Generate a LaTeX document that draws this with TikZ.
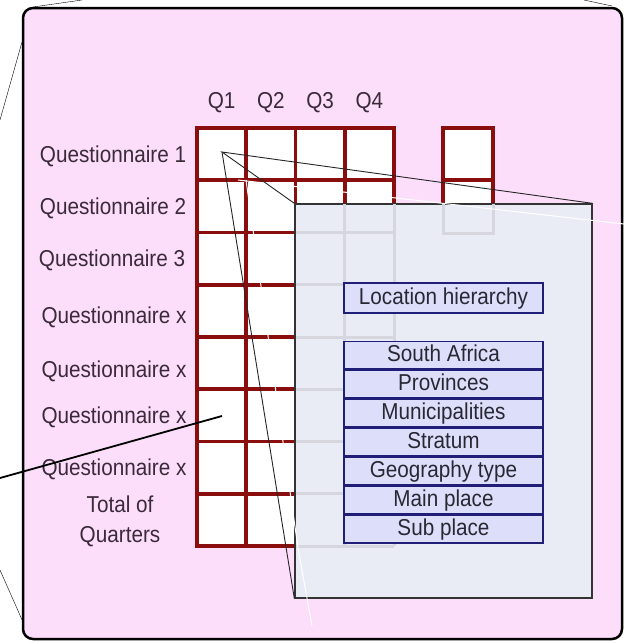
\documentclass[tikz,border=0pt]{standalone}
\usepackage{fontspec}
\setmainfont{Liberation Sans}[FakeStretch=0.9]
\usetikzlibrary{positioning}
\definecolor{pinkbg}{RGB}{252,222,250}
\definecolor{gridred}{RGB}{138,14,14}
\definecolor{panelfill}{RGB}{233,236,245}
\definecolor{fadegray}{RGB}{214,214,222}
\definecolor{boxblue}{RGB}{32,30,118}
\definecolor{boxfill}{RGB}{221,222,250}
\definecolor{labeltext}{RGB}{58,42,58}
\definecolor{boxtext}{RGB}{40,40,52}
\tikzset{
  gridline/.style={draw=gridred, line width=3.6pt, line cap=rect},
  fadeline/.style={draw=fadegray, line width=3pt},
  rowlabel/.style={anchor=base, text=labeltext, inner sep=0pt},
  levelbox/.style={draw=boxblue, fill=boxfill, line width=1.5pt, minimum width=199pt,
    minimum height=27.5pt, inner sep=0pt, text height=16.5pt, text depth=3.5pt, text=boxtext},
}
\begin{document}
\begin{tikzpicture}[x=1pt, y=-1pt, font=\fontsize{23}{30}\selectfont]
    \useasboundingbox (0,0) rectangle (624,643);
    % Lines of the outer zoom frame
    \draw[thin] (0,120) -- (22,42);
    \draw[thin] (33,7) -- (82,0);
    \draw[thin] (584,0) -- (612,6);
    \draw[thin] (0,570) -- (23,622);
    % Pink sheet
    \draw[line width=2.5pt, fill=pinkbg, rounded corners=10pt] (23,8) rectangle (622,639);
    % Quarter headings
    \foreach \j in {1,...,4}
        \node[text=labeltext, inner sep=0pt] (q\j) at ({197+49.25*(\j-0.5)},103) {Q\j};
    % Row labels
    \node[rowlabel] (qn1) at (113,162) {Questionnaire 1};
    \node[rowlabel] (qn2) at (113,214) {Questionnaire 2};
    \node[rowlabel] (qn3) at (112,266) {Questionnaire 3};
    \node[rowlabel] (qnx1) at (114,323) {Questionnaire x};
    \node[rowlabel] (qnx2) at (114,377) {Questionnaire x};
    \node[rowlabel] (qnx3) at (114,423) {Questionnaire x};
    \node[rowlabel] (qnx4) at (114,475) {Questionnaire x};
    \node[text=labeltext, inner sep=0pt, align=center] (total) at (120,521) {Total of\\Quarters};
    % Table of quarters
    \fill[white] (197,128) rectangle (394,546);
    \fill[white] (443,128) rectangle (493,233);
    \foreach \i in {0,...,8}
        \draw[gridline] (197,{128+52.25*\i}) -- (394,{128+52.25*\i});
    \foreach \j in {0,...,4}
        \draw[gridline] ({197+49.25*\j},128) -- ({197+49.25*\j},546);
    \draw[gridline] (443,128) rectangle (493,233);
    \draw[gridline] (443,180) -- (493,180);
    % Zoomed panel over the table
    \node[draw=black!80, fill=panelfill, line width=1.3pt, minimum width=297pt,
        minimum height=394pt, inner sep=0pt] (panel) at (443.5,401) {};
    \begin{scope}
        \clip (panel.south west) rectangle (panel.north east);
        \foreach \i in {2,...,8}
            \draw[fadeline] (296,{128+52.25*\i}) -- (394,{128+52.25*\i});
        \foreach \j in {3,4}
            \draw[fadeline] ({197+49.25*\j},204) -- ({197+49.25*\j},546);
        \draw[fadeline] (443,204) -- (443,233) -- (493,233) -- (493,204);
    \end{scope}
    % White glints
    \draw[white, line width=1pt] (238,180) -- (624,224);
    \draw[white, line width=1pt] (246,180) -- (298,548) -- (312,626);
    % Zoom lines from the cell
    \coordinate (focus) at (222,152);
    \draw[black!85, line width=0.9pt] (panel.north west) -- (focus) -- (panel.north east);
    \draw[black!85, line width=0.9pt] (focus) -- (panel.south west);
    \coordinate (cellx) at (222,416);
    \coordinate (offleft) at (0,478);
    \draw[line width=1.8pt] (cellx) -- (offleft);
    % Location hierarchy
    \node[levelbox, minimum height=30pt] (loc) at (443.5,298) {Location hierarchy};
    \node[levelbox] (sa) at (443.5,355) {South Africa};
    \node[levelbox, below=0pt of sa] (prov) {Provinces};
    \node[levelbox, below=0pt of prov] (muni) {Municipalities};
    \node[levelbox, below=0pt of muni] (strat) {Stratum};
    \node[levelbox, below=0pt of strat] (geo) {Geography type};
    \node[levelbox, below=0pt of geo] (main) {Main place};
    \node[levelbox, below=0pt of main] (sub) {Sub place};
\end{tikzpicture}
\end{document}
